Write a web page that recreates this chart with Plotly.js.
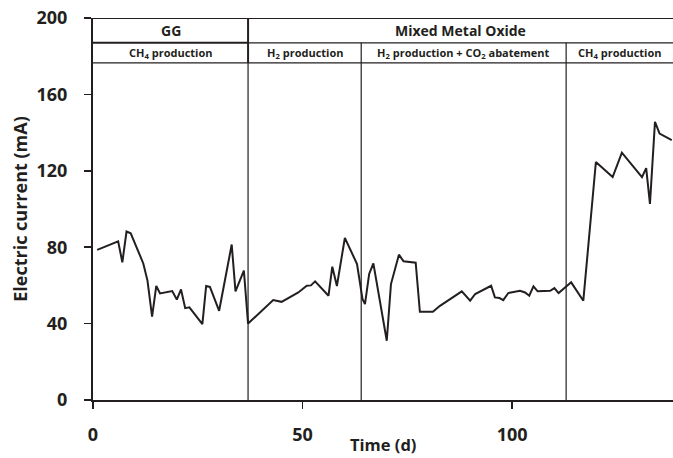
<!DOCTYPE html>
<html><head><meta charset="utf-8">
<script src="https://cdn.plot.ly/plotly-3.0.1.min.js"></script>
<style>html,body{margin:0;padding:0;background:#fff}#chart{width:673px;height:458px}</style>
</head><body><div id="chart"></div>
<script>
// Time (d)
const timeDays = [1.0,6.0,7.0,8.0,9.0,12.0,13.0,14.1,15.1,16.0,18.9,20.0,21.0,22.0,23.0,26.1,27.0,27.9,30.1,33.1,34.0,36.0,37.0,
  43.0,45.0,49.0,51.0,52.0,53.0,56.2,57.1,58.2,60.1,63.0,64.3,64.9,65.9,66.9,70.1,71.1,73.0,74.1,77.0,78.0,81.1,82.8,
  88.0,90.0,91.2,95.0,95.9,97.0,97.9,99.1,101.9,103.1,104.1,105.1,106.1,109.1,110.1,111.1,114.1,117.0,120.0,124.0,126.2,
  131.0,132.0,132.9,134.1,135.2,138.1];
// Electric current (mA)
const currentMA = [78.6,83.1,72.1,88.2,87.3,71.5,62.5,43.6,59.7,55.8,57.0,52.6,57.9,48.1,48.5,39.7,59.7,59.2,46.7,81.4,56.9,67.7,40.0,
  52.3,51.4,56.3,59.8,60.0,62.1,54.6,69.8,59.7,84.9,71.2,52.9,50.2,66.0,71.5,31.0,60.7,76.1,72.6,71.9,46.2,46.2,49.3,
  56.9,52.0,55.5,59.8,53.7,53.4,52.3,56.0,57.2,56.3,54.6,59.5,56.9,57.2,58.6,56.0,61.6,52.0,124.6,116.7,129.5,
  116.7,121.4,102.7,145.6,139.5,136.0];
const xTicks = [0, 50, 100];
const yTicks = [0, 40, 80, 120, 160, 200];
const phaseBounds = [37.0, 64.0, 112.9];
const groupLabels = ["GG", "Mixed Metal Oxide"];
const phaseLabels = ["CH<sub>4</sub> production", "H<sub>2</sub> production", "H<sub>2</sub> production + CO<sub>2</sub> abatement", "CH<sub>4</sub> production"];
const xTitle = "Time (d)";
const yTitle = "Electric current (mA)";

const XMAX = 138.4, ROW1 = 187, ROW2 = 176.5, TOP = 200;
const ink = '#231f20';
const font = 'Open Sans, Noto Sans, sans-serif';

const shapes = [];
shapes.push({type:'line', xref:'x', yref:'y', x0:0, x1:phaseBounds[0], y0:TOP, y1:TOP, line:{color:ink, width:2.2}});
shapes.push({type:'line', xref:'x', yref:'y', x0:phaseBounds[0], x1:XMAX, y0:TOP, y1:TOP, line:{color:ink, width:1.8}});
shapes.push({type:'line', xref:'x', yref:'y', x0:0, x1:phaseBounds[0], y0:ROW1, y1:ROW1, line:{color:ink, width:2}});
shapes.push({type:'line', xref:'x', yref:'y', x0:phaseBounds[0], x1:XMAX, y0:ROW1, y1:ROW1, line:{color:ink, width:1.4}});
shapes.push({type:'line', xref:'x', yref:'y', x0:0, x1:XMAX, y0:ROW2, y1:ROW2, line:{color:ink, width:1.1}});
shapes.push({type:'line', xref:'x', yref:'y', x0:phaseBounds[0], x1:phaseBounds[0], y0:ROW2, y1:TOP, line:{color:ink, width:2}});
shapes.push({type:'line', xref:'x', yref:'y', x0:phaseBounds[0], x1:phaseBounds[0], y0:0, y1:ROW2, line:{color:ink, width:1.2}});
shapes.push({type:'line', xref:'x', yref:'y', x0:phaseBounds[1], x1:phaseBounds[1], y0:0, y1:ROW1, line:{color:ink, width:1.2}});
shapes.push({type:'line', xref:'x', yref:'y', x0:phaseBounds[2], x1:phaseBounds[2], y0:0, y1:ROW1, line:{color:ink, width:1.2}});

const edges = [0, ...phaseBounds, XMAX];
const annotations = [];
annotations.push({x:(0+phaseBounds[0])/2, y:(TOP+ROW1)/2, xref:'x', yref:'y', text:'<b>'+groupLabels[0]+'</b>', showarrow:false, font:{family:font, size:14, color:ink}});
annotations.push({x:(phaseBounds[0]+XMAX)/2, y:(TOP+ROW1)/2, xref:'x', yref:'y', text:'<b>'+groupLabels[1]+'</b>', showarrow:false, font:{family:font, size:14, color:ink}});
for (let i = 0; i < phaseLabels.length; i++) {
  annotations.push({x:(edges[i]+edges[i+1])/2, y:(ROW1+ROW2)/2, xref:'x', yref:'y', text:'<b>'+phaseLabels[i]+'</b>', showarrow:false, font:{family:font, size:11, color:ink}});
}
// x-axis title placed just below the tick labels
annotations.push({x:0.5, y:-0.1176, xref:'paper', yref:'paper', xanchor:'center', yanchor:'middle', text:'<b>'+xTitle+'</b>', showarrow:false, borderpad:0, font:{family:font, size:16.5, color:ink}});

Plotly.newPlot('chart', [{
  x: timeDays, y: currentMA, type:'scatter', mode:'lines',
  line:{color:ink, width:2}, hoverinfo:'skip'
}], {
  width:673, height:458,
  margin:{l:93, r:0, t:17.5, b:58},
  paper_bgcolor:'#fff', plot_bgcolor:'#fff',
  showlegend:false,
  font:{family:font, color:ink},
  xaxis:{range:[0, XMAX], tickvals:xTicks, ticktext:xTicks.map(String), ticks:'outside', ticklen:7, tickwidth:1.5, tickcolor:ink,
    showline:true, linewidth:2, linecolor:ink, showgrid:false, zeroline:false, ticklabelstandoff:10,
    tickfont:{family:font, size:18, color:ink, weight:'bold'}},
  yaxis:{range:[0, 200], tickvals:yTicks, ticktext:yTicks.map(String), ticks:'outside', ticklen:7, tickwidth:1.5, tickcolor:ink,
    showline:true, linewidth:2, linecolor:ink, showgrid:false, zeroline:false, ticklabelstandoff:13,
    tickfont:{family:font, size:18, color:ink, weight:'bold'},
    title:{text:'<b>'+yTitle+'</b>', font:{family:font, size:18, color:ink}, standoff:4}},
  shapes: shapes,
  annotations: annotations
}, {staticPlot:true});
</script></body></html>
